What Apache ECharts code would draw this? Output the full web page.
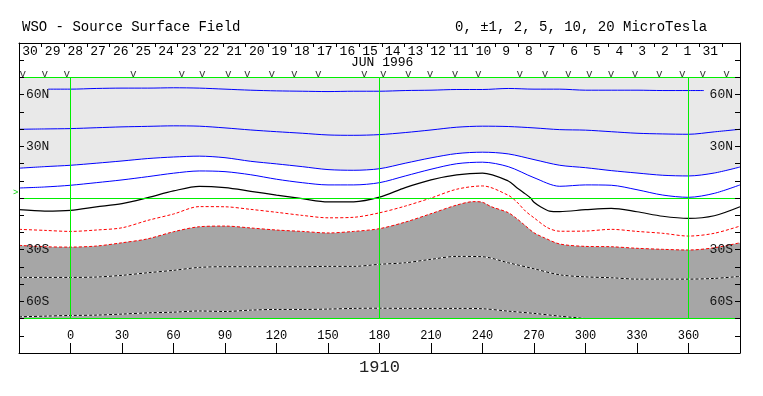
<!DOCTYPE html>
<html>
<head>
<meta charset="utf-8">
<script src="https://cdn.jsdelivr.net/npm/echarts@6/dist/echarts.min.js"></script>
<style>html,body{margin:0;padding:0;background:#fff}#c{width:763px;height:396px}</style>
</head>
<body>
<div id="c"></div>
<script>
// Carrington longitude grid (degrees)
const lonGrid = [-30,-15,0,15,30,45,60,75,90,105,120,135,150,165,180,195,210,225,240,255,270,285,300,315,330,345,360,375,390];
// contour latitudes (degrees) for each field level (microTesla)
const p10Lon = [-13,0,15,30,45,60,75,90,105,120,135,150,165,180,195,210,225,240,255,270,285,300,315,330,345,360,369];
const p10Lat = [63.2,63.2,63.6,63.8,63.8,64.0,63.8,63.2,62.6,62.2,62.0,61.8,62.0,62.0,62.4,62.6,63.0,63.0,63.6,63.2,63.2,62.6,62.6,62.6,62.4,62.4,62.4];
const p5  = [39.9,40.1,40.3,40.8,41.3,41.6,41.9,41.7,40.7,39.5,38.5,37.6,36.6,36.4,36.8,38.0,39.5,41.1,41.7,41.5,40.7,39.7,39.4,38.5,37.6,37.2,37.0,38.4,39.9];
const p2  = [17.3,18.2,19.0,20.2,21.5,22.9,23.8,24.3,23.4,21.3,19.8,18.2,16.5,16.1,17.0,20.2,23.3,25.8,26.6,25.6,22.3,19.0,17.6,15.9,14.5,13.2,12.8,14.5,18.0];
const p1  = [5.8,6.4,7.4,8.9,10.5,12.4,14.4,15.7,15.3,13.5,10.9,8.9,7.6,7.6,8.9,12.8,16.7,19.9,20.8,18.2,11.8,6.8,7.6,7.4,4.8,1.7,0.4,2.7,7.6];
const z0  = [-6.8,-7.6,-7.2,-5.2,-3.3,0.2,4.1,6.8,6.0,3.9,1.7,-0.4,-2.3,-2.2,0.5,6.0,10.5,13.4,14.4,9.9,-2.5,-7.9,-6.8,-6.0,-8.0,-10.6,-11.8,-10.3,-5.1];
const z0Extra = [[260,6.0],[264,3.1],[268,0],[274,-5.2],[279,-7.6]];
const m1  = [-18.2,-18.8,-19.4,-18.6,-17.3,-13.0,-9.3,-5.0,-5.1,-6.6,-8.3,-10.1,-11.5,-11.2,-8.6,-4.7,0,5.1,7.0,1.6,-11.5,-19.3,-19.2,-18.2,-19.4,-20.5,-22.1,-20.5,-16.3];
const m1Extra = [[260,-2.3],[265,-7.6],[278,-17.3]];
const m2  = [-27.5,-28.3,-28.5,-27.9,-26.0,-23.7,-19.6,-16.7,-16.3,-17.4,-18.6,-19.4,-20.3,-19.4,-17.8,-14.0,-9.1,-4.1,-2.5,-8.5,-20.2,-26.7,-28.1,-28.3,-29.2,-29.8,-30.2,-28.9,-26.0];
const m2Extra = [[235,-2.1],[245,-5.0],[260,-12.0],[264,-15.3],[276,-23.1]];
const m5  = [-46.1,-46.1,-46.1,-45.9,-44.9,-43.4,-42.0,-40.3,-39.9,-39.9,-39.9,-39.9,-39.7,-39.7,-38.5,-37.6,-35.6,-33.9,-34.1,-37.6,-41.1,-44.6,-45.8,-46.3,-47.1,-47.1,-47.1,-46.7,-45.5];
const m10 = [-69.0,-68.6,-68.2,-68.0,-67.4,-66.7,-66.3,-65.6,-65.9,-65.1,-64.7,-64.7,-64.5,-64.1,-64.0,-64.1,-64.1,-64.1,-64.3,-65.7,-67.0,-68.6,-70.0];
// observation markers (longitudes)
const obsLon = [-27.8,-14.9,-2.2,36.6,64.8,76.8,91.9,103.0,117.2,130.4,144.3,171.1,182.2,196.8,209.4,224.0,237.6,261.8,276.4,290.0,302.2,314.9,328.9,343.0,356.4,368.3,382.2];
// top date labels (day of month at each day boundary)
const dates = ['30','29','28','27','26','25','24','23','22','21','20','19','18','17','16','15','14','13','12','11','10','9','8','7','6','5','4','3','2','1','31'];
const lonTicks = [0,30,60,90,120,150,180,210,240,270,300,330,360];
const latLabels = {'60':'60N','30':'30N','-30':'30S','-60':'60S'};
const rotation = '1910';

function pairs(lons, lats, extra) {
  const out = [];
  for (let i = 0; i < lats.length; i++) out.push([lons[i], lats[i]]);
  if (extra) extra.forEach(e => out.push(e));
  out.sort((a, b) => a[0] - b[0]);
  return out;
}

const MONO = '"Liberation Mono", "DejaVu Sans Mono", monospace';
const SM = 0.3;

function contour(data, color, width, dash, z) {
  return {
    type: 'line', data: data, symbol: 'none', smooth: SM, z: z || 4, silent: true,
    lineStyle: { color: color, width: width, type: dash ? [3, 2] : 'solid' }
  };
}

const chart = echarts.init(document.getElementById('c'), null, { renderer: 'canvas' });
const greenStyle = { color: '#00ee00', width: 1, type: 'solid' };
const axisLineStyle = { show: true, onZero: false, lineStyle: { color: '#000', width: 1 } };

chart.setOption({
  animation: false,
  backgroundColor: '#fff',
  grid: { left: 19, right: 23, top: 43, bottom: 43, containLabel: false },
  xAxis: [
    {
      type: 'value', min: -30, max: 390, interval: 30, position: 'bottom', z: 10,
      axisLine: axisLineStyle,
      axisTick: { show: true, inside: true, length: 10, lineStyle: { color: '#000' } },
      axisLabel: {
        inside: true, margin: 11, fontFamily: MONO, fontSize: 12, color: '#000',
        formatter: v => (lonTicks.indexOf(v) >= 0 ? String(v) : '')
      },
      splitLine: { show: false },
      name: rotation, nameLocation: 'middle', nameGap: 6,
      nameTextStyle: { fontFamily: MONO, fontSize: 17, color: '#222', verticalAlign: 'top' }
    },
    {
      type: 'value', min: 0, max: 31.8, interval: 1, position: 'top', z: 10,
      axisLine: axisLineStyle,
      axisTick: { show: true, inside: true, length: 4, lineStyle: { color: '#000' } },
      axisLabel: {
        inside: true, margin: 2, align: 'left', showMaxLabel: false,
        formatter: v => {
          const i = Math.round(v);
          return (Math.abs(v - i) < 1e-6 && dates[i]) ? '{d|' + dates[i] + '}' : '';
        },
        rich: { d: { width: 22, align: 'center', fontFamily: MONO, fontSize: 13, color: '#000' } }
      },
      splitLine: { show: false }
    }
  ],
  yAxis: [
    {
      type: 'value', min: -90, max: 90, interval: 10, position: 'left', z: 10,
      axisLine: axisLineStyle,
      axisTick: { show: true, inside: true, length: 5, lineStyle: { color: '#000' } },
      axisLabel: { inside: true, margin: 7, fontFamily: MONO, fontSize: 13, color: '#111',
        formatter: v => latLabels[String(v)] || '' },
      splitLine: { show: false }
    },
    {
      type: 'value', min: -90, max: 90, interval: 10, position: 'right', z: 10,
      axisLine: axisLineStyle,
      axisTick: { show: true, inside: true, length: 5, lineStyle: { color: '#000' } },
      axisLabel: { inside: true, margin: 7, fontFamily: MONO, fontSize: 13, color: '#111',
        formatter: v => latLabels[String(v)] || '' },
      splitLine: { show: false }
    }
  ],
  graphic: [
    { type: 'text', left: 22, top: 20, silent: true,
      style: { text: 'WSO - Source Surface Field', font: '14px ' + MONO, fill: '#000' } },
    { type: 'text', left: 455, top: 20, silent: true,
      style: { text: '0, \u00b11, 2, 5, 10, 20 MicroTesla', font: '14px ' + MONO, fill: '#000' } },
    { type: 'text', left: 351, top: 56, silent: true,
      style: { text: 'JUN 1996', font: '13px ' + MONO, fill: '#000' } },
    { type: 'text', left: 13, top: 188, silent: true,
      style: { text: '>', font: '9px ' + MONO, fill: '#00cc00' } }
  ],
  series: [
    { type: 'line', data: pairs(lonGrid, p2), symbol: 'none', smooth: SM, z: 1, silent: true,
      lineStyle: { width: 0 }, areaStyle: { color: '#e9e9e9', opacity: 1, origin: 70 } },
    { type: 'line', data: pairs(lonGrid, m2, m2Extra), symbol: 'none', smooth: SM, z: 1, silent: true,
      lineStyle: { width: 0 }, areaStyle: { color: '#a6a6a6', opacity: 1, origin: -70 } },
    { type: 'line', data: [], z: 2, silent: true,
      markLine: {
        silent: true, symbol: 'none', label: { show: false }, lineStyle: greenStyle,
        data: [
          [{ coord: [-30, 70] }, { coord: [390, 70] }],
          [{ coord: [-30, 0] }, { coord: [390, 0] }],
          [{ coord: [-30, -70] }, { coord: [390, -70] }],
          [{ coord: [0, -70] }, { coord: [0, 70] }],
          [{ coord: [180, -70] }, { coord: [180, 70] }],
          [{ coord: [360, -70] }, { coord: [360, 70] }]
        ]
      } },
    contour(pairs(p10Lon, p10Lat), '#0000ff', 1, false),
    contour(pairs(lonGrid, p5), '#0000ff', 1, false),
    contour(pairs(lonGrid, p2), '#0000ff', 1, false),
    contour(pairs(lonGrid, p1), '#0000ff', 1, false),
    contour(pairs(lonGrid, z0, z0Extra), '#000000', 1.2, false),
    contour(pairs(lonGrid, m1, m1Extra), '#ff0000', 1, true),
    contour(pairs(lonGrid, m2, m2Extra), '#ff0000', 1, true),
    contour(pairs(lonGrid, m5), '#ffffff', 1, false, 3),
    contour(pairs(lonGrid, m5), '#000000', 1, true),
    contour(pairs(lonGrid.slice(0, m10.length), m10), '#ffffff', 1, false, 3),
    contour(pairs(lonGrid.slice(0, m10.length), m10), '#000000', 1, true),
    { type: 'scatter', data: obsLon.map(l => [l, 72]), symbolSize: 0, z: 5, silent: true,
      label: { show: true, position: 'inside', formatter: 'v', fontFamily: MONO, fontSize: 11, color: '#000' } }
  ]
});
</script>
</body>
</html>
